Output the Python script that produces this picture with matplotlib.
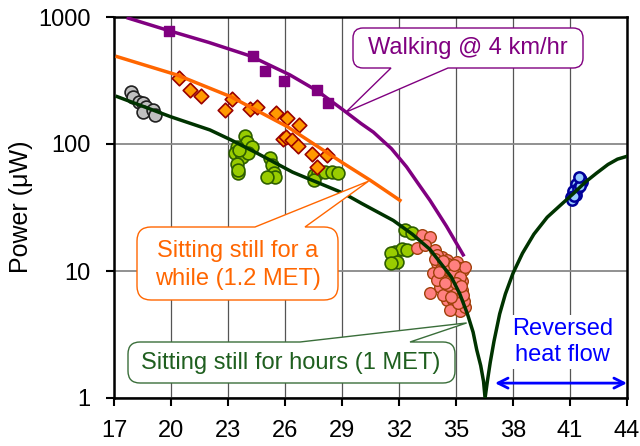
import matplotlib.pyplot as plt
import numpy as np
from matplotlib.path import Path
from matplotlib.patches import PathPatch

plt.rcParams['font.family'] = ['Liberation Sans', 'DejaVu Sans']

# skin temperature (C) vs harvested power (uW)
gray_x = [17.9, 18.0, 18.3, 18.5, 18.7, 18.55, 19.05, 19.15]
gray_y = [258, 233, 215, 209, 196, 180, 185, 169]

green_x = [23.9, 23.98, 23.46, 24.25, 23.37, 23.72, 23.46, 23.54, 24.07, 23.54, 23.6,
           25.2, 25.3, 25.4, 25.47, 25.04, 27.5, 27.75, 28.1, 28.46, 28.8, 27.5,
           32.3, 32.67, 31.8, 32.14, 32.4, 31.6, 31.88, 31.6]
green_y = [116, 104, 95, 95, 84.5, 79.5, 70, 59, 84.5, 62, 90,
           77, 68, 59, 55, 55, 57, 59, 60, 60, 59, 52,
           21, 19.8, 14.2, 15, 14.6, 13.8, 11.8, 11.5]

salmon_x = [33.2, 33.63, 32.93, 33.37, 33.9, 34.25, 34.0, 34.86, 35.38, 33.8, 34.33, 33.63,
            34.16, 34.77, 35.3, 34.5, 35.04, 35.2, 35.47, 34.0, 34.68, 35.04, 34.5, 34.0,
            34.86, 34.95, 34.33, 35.2, 35.0, 34.6, 35.3, 34.9, 35.1, 34.2, 35.4, 34.7,
            34.4, 34.8, 35.2, 34.6, 35.0, 34.4, 34.1, 35.35, 35.1, 34.75, 33.9, 34.6,
            35.45, 34.3, 34.9, 35.25]
salmon_y = [19.2, 18.6, 15.1, 16, 14.6, 13, 11.5, 10.8, 10.2, 9.6, 9.0, 6.7,
            7.5, 7.5, 7.1, 5.9, 5.2, 4.8, 5.2, 8.5, 8.5, 11.8, 12.2, 13.4,
            5.9, 6.7, 6.5, 10.5, 9.5, 10.2, 8.3, 7.0, 6.0, 10.4, 5.8, 4.9,
            11.0, 9.8, 9.0, 7.8, 8.0, 8.0, 9.8, 6.5, 5.6, 6.2, 12.5, 11.4,
            10.8, 12.0, 11.2, 7.6]

blue_x = [41.55, 41.65, 41.3, 41.15, 41.05, 41.1, 41.3, 41.4, 41.6, 41.2, 41.5, 41.45]
blue_y = [54, 50, 48, 43, 38, 36, 40, 45, 52, 39, 47, 55]

diam_x = [20.4, 21.0, 21.6, 22.85, 23.2, 24.15, 24.5, 25.5, 26.1, 26.75, 25.9, 26.05,
          26.35, 26.7, 27.4, 28.2, 27.7]
diam_y = [330, 265, 240, 185, 225, 188, 195, 174, 160, 141, 110, 113,
          108, 96, 84, 82, 66]

sq_x = [19.9, 24.3, 24.95, 25.95, 27.7, 28.25]
sq_y = [780, 490, 375, 315, 265, 210]

# model curves
walk_x = [17.75, 19.9, 22.0, 24.2, 26.26, 27.7, 29.07, 30.0, 30.65, 31.6, 32.4, 33.0, 33.63,
          34.5, 35.38]
walk_y = [980, 780, 630, 492, 350, 262, 185, 145, 124, 92, 66, 49, 36, 22.5, 13.4]

while_x = [17.17, 20.33, 23.14, 26.12, 29.07, 30.47, 32.05]
while_y = [487, 349, 236, 137, 70.5, 52, 36]

hours_x = [17.17, 19.98, 22.05, 23.14, 24.54, 26.4, 29.07, 30.04, 31.7, 32.7, 33.63, 34.75,
           35.2, 35.6, 35.9, 36.09, 36.3, 36.45, 36.53,
           36.65, 36.8, 37.0, 37.3, 37.6, 38.0, 38.5, 39.1, 39.8, 40.5, 41.2, 41.8, 42.4,
           43.0, 43.5, 44.0]
hours_y = [236, 164, 129, 108, 84.5, 60, 41, 34, 25, 19.5, 14.8, 9.0,
           6.6, 4.6, 3.3, 2.4, 1.8, 1.35, 1.0,
           1.35, 1.9, 2.8, 4.6, 6.6, 9.6, 13.8, 19.5, 26.5, 33, 41, 50, 59,
           69, 76, 80]

W, H = 640, 446
fig = plt.figure(figsize=(W / 100, H / 100), dpi=100)
ax = fig.add_axes([114 / W, 1 - 398 / H, 513 / W, 381 / H])

ax.scatter(gray_x, gray_y, s=85, fc='#C0C0C0', ec='#202020', lw=1.2, zorder=3)
ax.scatter(green_x, green_y, s=85, fc='#99CC00', ec='#2E5E00', lw=1.2, zorder=3)
ax.scatter(salmon_x, salmon_y, s=70, fc='#FF8080', ec='#A0400A', lw=1.0, zorder=3)
ax.scatter(blue_x, blue_y, s=55, fc='#99CCFF', ec='#000099', lw=1.8, zorder=3)
ax.scatter(diam_x, diam_y, marker='D', s=55, fc='#FF9900', ec='#990000', lw=1.2, zorder=3)

ax.plot(walk_x, walk_y, color='#800080', lw=2.5, zorder=4)
ax.plot(while_x, while_y, color='#FF6600', lw=2.5, zorder=4)
ax.plot(hours_x, hours_y, color='#003300', lw=2.5, zorder=4)
ax.scatter(sq_x, sq_y, marker='s', s=50, color='#800080', zorder=5)

ax.set_yscale('log')
ax.set_xlim(17, 44)
ax.set_ylim(1, 1000)
ax.set_xticks(range(17, 45, 3))
ax.set_yticks([1, 10, 100, 1000])
ax.set_yticklabels(['1', '10', '100', '1000'])
ax.yaxis.set_minor_locator(plt.NullLocator())
ax.tick_params(labelsize=17, direction='out', length=6, width=1.5)
ax.tick_params(axis='x', pad=9.5)
ax.tick_params(axis='y', pad=11)
ax.grid(True, axis='x', color='#555555', lw=0.9)
ax.grid(True, axis='y', color='#888888', lw=1.3)
ax.set_axisbelow(True)
for sp in ax.spines.values():
    sp.set_linewidth(1.8)
    sp.set_color('black')

fig.text(21 / W, 1 - 207 / H, 'Power (\u03bcW)', rotation=90, ha='center', va='center', fontsize=18)


def callout(x0, y0, x1, y1, b1, b2, tip, side, r, color):
    # box in image pixels (y down), tip in data coords
    tx, ty = fig.transFigure.inverted().transform(ax.transData.transform(tip))
    fx = lambda v: v / W
    fy = lambda v: 1 - v / H
    L, R, T, B = fx(x0), fx(x1), fy(y0), fy(y1)
    rx, ry = r / W, r / H
    v = [(L + rx, B)]
    c = [Path.MOVETO]
    if side == 'bottom':
        v += [(fx(b1), B), (tx, ty), (fx(b2), B)]
        c += [Path.LINETO] * 3
    v += [(R - rx, B), (R, B), (R, B + ry), (R, T - ry), (R, T), (R - rx, T)]
    c += [Path.LINETO, Path.CURVE3, Path.CURVE3, Path.LINETO, Path.CURVE3, Path.CURVE3]
    if side == 'top':
        v += [(fx(b2), T), (tx, ty), (fx(b1), T)]
        c += [Path.LINETO] * 3
    v += [(L + rx, T), (L, T), (L, T - ry), (L, B + ry), (L, B), (L + rx, B), (L + rx, B)]
    c += [Path.LINETO, Path.CURVE3, Path.CURVE3, Path.LINETO, Path.CURVE3, Path.CURVE3, Path.CLOSEPOLY]
    p = PathPatch(Path(v, c), fc='white', ec=color, lw=1.0, transform=fig.transFigure,
                  clip_on=False, zorder=6)
    ax.add_patch(p)


callout(353, 28, 583, 68, 391, 448, (29.2, 178), 'bottom', 10, '#800080')
fig.text(468 / W, 1 - 48 / H, 'Walking @ 4 km/hr', color='#800080', fontsize=17,
         ha='center', va='center', zorder=7)

callout(137, 227, 338, 300, 255, 305, (30.4, 51), 'top', 14, '#FF6600')
fig.text(238 / W, 1 - 265 / H, 'Sitting still for a\nwhile (1.2 MET)', color='#FF6600',
         fontsize=17, ha='center', va='center', linespacing=1.3, zorder=7)

callout(128, 342, 455, 383, 300, 410, (35.56, 3.9), 'top', 12, '#3A6E3A')
fig.text(291 / W, 1 - 363 / H, 'Sitting still for hours (1 MET)', color='#1F5F1F', fontsize=17,
         ha='center', va='center', zorder=7)

ax.text(40.6, 2.76, 'Reversed\nheat flow', color='blue', fontsize=17, ha='center', va='center',
        linespacing=1.25, zorder=7, bbox=dict(fc='white', ec='none', pad=2))
ax.annotate('', xy=(44, 1.31), xytext=(37.05, 1.31),
            arrowprops=dict(arrowstyle='<->', color='blue', lw=2, mutation_scale=18,
                            shrinkA=0, shrinkB=0), zorder=7)

fig.savefig('out.png', dpi=100)
